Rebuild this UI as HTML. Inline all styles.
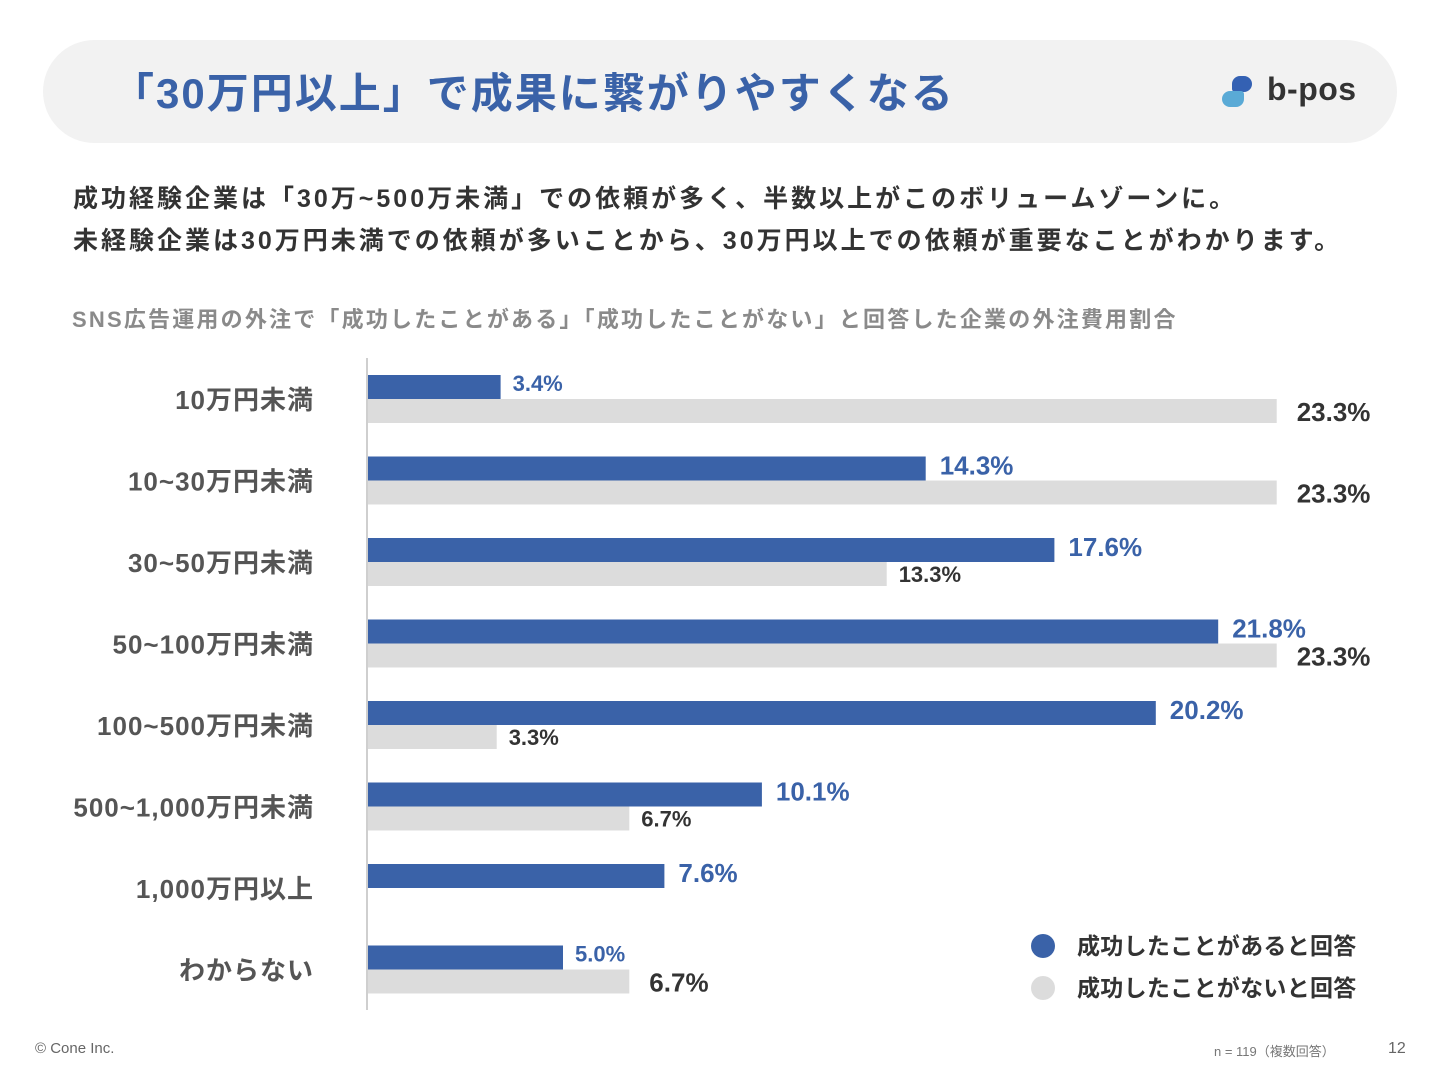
<!DOCTYPE html>
<html><head><meta charset="utf-8"><style>
body{margin:0;width:1440px;height:1080px;background:#fff;font-family:"Liberation Sans","Noto Sans CJK JP",sans-serif;position:relative;overflow:hidden}
.abs{position:absolute;white-space:nowrap}
</style></head><body>
<div class="abs" style="left:43px;top:40px;width:1354px;height:103px;background:#f2f2f2;border-radius:52px"></div>
<div class="abs" style="left:112px;top:60px;font-size:42px;font-weight:bold;color:#3a62a8;letter-spacing:2px">「30万円以上」で成果に繋がりやすくなる</div>
<div class="abs" style="left:1220px;top:74px;width:140px;height:40px">
 <div style="position:absolute;left:12px;top:2px;width:20px;height:16px;background:#3461b3;border-radius:8px 8px 8px 3px"></div>
 <div style="position:absolute;left:2px;top:17px;width:22px;height:16px;background:#5aaad6;border-radius:8px 3px 8px 8px"></div>
 <div style="position:absolute;left:47px;top:-3px;font-size:32px;color:#333;font-weight:bold;letter-spacing:0.5px">b-pos</div>
</div>
<div class="abs" style="left:73px;top:178px;font-size:25px;font-weight:bold;color:#333;line-height:42px;letter-spacing:3px">成功経験企業は「30万~500万未満」での依頼が多く、半数以上がこのボリュームゾーンに。<br>未経験企業は30万円未満での依頼が多いことから、30万円以上での依頼が重要なことがわかります。</div>
<div class="abs" style="left:72px;top:302px;font-size:22px;font-weight:bold;color:#8a8a8a;letter-spacing:2.2px">SNS広告運用の外注で「成功したことがある」「成功したことがない」と回答した企業の外注費用割合</div>
<svg class="abs" style="left:0;top:0" width="1440" height="1080" id="chart"></svg>
<div class="abs" style="left:1031px;top:927px;font-size:23px;font-weight:bold;color:#333;letter-spacing:0.3px"><span style="display:inline-block;width:24px;height:24px;border-radius:50%;background:#3a62a8;vertical-align:-4px;margin-right:22px"></span>成功したことがあると回答</div>
<div class="abs" style="left:1031px;top:969px;font-size:23px;font-weight:bold;color:#333;letter-spacing:0.3px"><span style="display:inline-block;width:24px;height:24px;border-radius:50%;background:#dcdcdc;vertical-align:-4px;margin-right:22px"></span>成功したことがないと回答</div>
<div class="abs" style="left:35px;top:1040px;font-size:15px;color:#666">© Cone Inc.</div>
<div class="abs" style="left:1214px;top:1041px;font-size:13px;color:#777">n = 119（複数回答）</div>
<div class="abs" style="left:1388px;top:1040px;font-size:16px;color:#666">12</div>
<script>
const categories=["10万円未満","10~30万円未満","30~50万円未満","50~100万円未満","100~500万円未満","500~1,000万円未満","1,000万円以上","わからない"];
const successVals=[3.4,14.3,17.6,21.8,20.2,10.1,7.6,5.0];
const failVals=[23.3,23.3,13.3,23.3,3.3,6.7,null,6.7];
const svg=document.getElementById('chart');
const NS='http://www.w3.org/2000/svg';
const x0=368, pxPer=39.0, rowTop=375, pitch=81.5, bh=24;
const xs=v=>x0+v*pxPer;
function mk(t,a){const e=document.createElementNS(NS,t);for(const k in a)e.setAttribute(k,a[k]);svg.appendChild(e);return e;}
const axis=mk('line',{x1:367,y1:358,x2:367,y2:1010,stroke:'#cfcfcf','stroke-width':2});


categories.forEach((c,i)=>{
 const y=rowTop+i*pitch;
 const lab=mk('text',{x:314,y:y+34,'text-anchor':'end','font-size':26,'font-weight':'bold',fill:'#555','letter-spacing':1});
 lab.textContent=c;
 
 
 const b=mk('rect',{x:x0,y:y,width:xs(successVals[i])-x0,height:bh,fill:'#3a62a8'});
 
 
 const big=successVals[i]>=7;
 const t=mk('text',{x:xs(successVals[i])+(big?14:12),y:y+(big?18:16),'font-size':big?26:22,'font-weight':'bold',fill:'#3a62a8'});
 t.textContent=successVals[i].toFixed(1)+'%';
 
 
 if(failVals[i]!==null){
  const g=mk('rect',{x:x0,y:y+bh,width:xs(failVals[i])-x0,height:bh,fill:'#dcdcdc'});
  
  
  const bg=failVals[i]>=20||i===7;
  const t2=mk('text',{x:xs(failVals[i])+(bg?20:12),y:y+bh+(bg?22:20),'font-size':bg?26:22,'font-weight':'bold',fill:'#333'});
  t2.textContent=failVals[i].toFixed(1)+'%';
  
  
 }
});
</script>
</body></html>
